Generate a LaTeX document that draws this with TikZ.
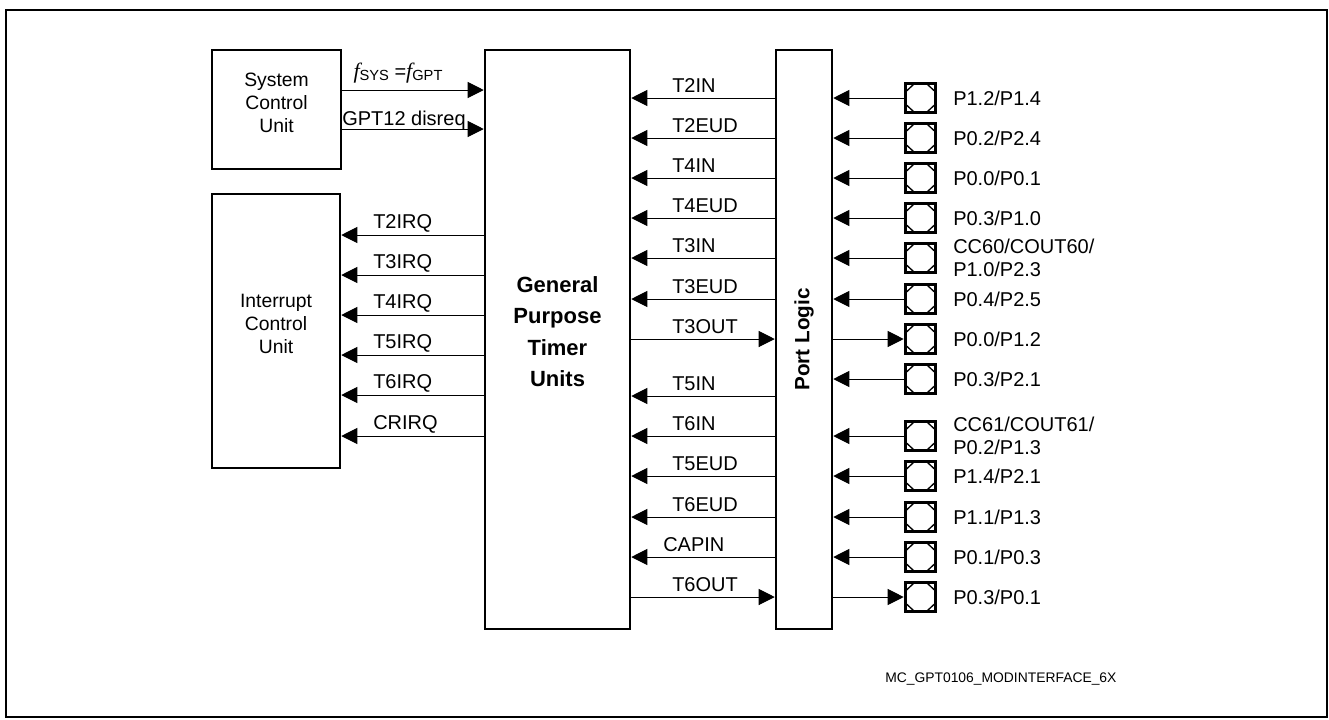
\documentclass[tikz,border=0pt]{standalone}
\usepackage{fontspec}
\setmainfont{Liberation Sans}
\newfontfamily\timesfont{Liberation Serif}
\usetikzlibrary{arrows.meta, calc, fit}
\tikzset{
    unit/.style={draw, line width=1.9pt, inner sep=0pt, align=center, font=\fontsize{14.5}{17.3}\selectfont},
    pad/.style={draw, line width=2.2pt, minimum width=23pt, minimum height=21.5pt, inner sep=0pt,
        path picture={
            \coordinate (nw) at (path picture bounding box.north west);
            \coordinate (ne) at (path picture bounding box.north east);
            \coordinate (sw) at (path picture bounding box.south west);
            \coordinate (se) at (path picture bounding box.south east);
            \draw[line width=1pt] ($(nw)!.3!(ne)$) -- ($(nw)!.3!(sw)$)
                ($(ne)!.3!(nw)$) -- ($(ne)!.3!(se)$)
                ($(sw)!.3!(se)$) -- ($(sw)!.3!(nw)$)
                ($(se)!.3!(sw)$) -- ($(se)!.3!(ne)$);
        }},
    sig/.style={-{Triangle[length=12pt, width=12pt]}, line width=0.75pt},
    siglabel/.style={anchor=base west, inner sep=0pt},
    padlabel/.style={anchor=west, inner sep=0pt, align=left, font=\fontsize{15}{17.5}\selectfont},
}
\begin{document}
\begin{tikzpicture}[x=0.75pt, y=-0.75pt, font=\fontsize{15}{18}\selectfont]
    \useasboundingbox (0,0) rectangle (1329,719);
    \draw[line width=1.5pt] (6,10) rectangle (1327,717);

    % blocks
    \node[unit, fit={(212,50) (341,169)}] (scu) {System\\Control\\Unit};
    \node[unit, fit={(212,194) (340,468)}] (icu) {Interrupt\\Control\\Unit};
    \node[unit, fit={(485,50) (630,629)}, font=\bfseries\fontsize{16.5}{23.5}\selectfont] (gpt) {General\\Purpose\\Timer\\Units};
    \node[unit, fit={(776,50) (832,629)}] (port) {};
    \node[rotate=90, font=\bfseries\fontsize{15.5}{18}\selectfont] (portlabel) at (port.center) {Port Logic};

    % system control unit -> timers
    \draw[sig] (scu.east |- 0,90) -- (gpt.west |- 0,90);
    \node[anchor=base, inner sep=0pt] (fsys) at (398,78) {{\timesfont\itshape\fontsize{16.5}{18}\selectfont f}\raisebox{-1.5pt}{\fontsize{11}{12}\selectfont SYS} ={\timesfont\itshape\fontsize{16.5}{18}\selectfont f}\raisebox{-1.5pt}{\fontsize{11}{12}\selectfont GPT}};
    \draw[sig] (scu.east |- 0,129) -- (gpt.west |- 0,129);
    \node[siglabel] (disreq) at (342,125) {GPT12 disreq};

    % interrupt requests
    \draw[sig] (gpt.west |- 0,235) -- (icu.east |- 0,235);
    \node[siglabel] (t2irq) at (373,228) {T2IRQ};
    \draw[sig] (gpt.west |- 0,275) -- (icu.east |- 0,275);
    \node[siglabel] (t3irq) at (373,268) {T3IRQ};
    \draw[sig] (gpt.west |- 0,315) -- (icu.east |- 0,315);
    \node[siglabel] (t4irq) at (373,308) {T4IRQ};
    \draw[sig] (gpt.west |- 0,355) -- (icu.east |- 0,355);
    \node[siglabel] (t5irq) at (373,348) {T5IRQ};
    \draw[sig] (gpt.west |- 0,395) -- (icu.east |- 0,395);
    \node[siglabel] (t6irq) at (373,388) {T6IRQ};
    \draw[sig] (gpt.west |- 0,436) -- (icu.east |- 0,436);
    \node[siglabel] (crirq) at (373,429) {CRIRQ};

    % pads
    \node[pad] (p1) at (920.5,98) {};
    \node[padlabel] (l1) at (953,98) {P1.2/P1.4};
    \node[pad] (p2) at (920.5,138) {};
    \node[padlabel] (l2) at (953,138) {P0.2/P2.4};
    \node[pad] (p3) at (920.5,178) {};
    \node[padlabel] (l3) at (953,178) {P0.0/P0.1};
    \node[pad] (p4) at (920.5,218) {};
    \node[padlabel] (l4) at (953,218) {P0.3/P1.0};
    \node[pad] (p5) at (920.5,258) {};
    \node[padlabel] (l5) at (953,258) {CC60/COUT60/\\P1.0/P2.3};
    \node[pad] (p6) at (920.5,299) {};
    \node[padlabel] (l6) at (953,299) {P0.4/P2.5};
    \node[pad] (p7) at (920.5,339) {};
    \node[padlabel] (l7) at (953,339) {P0.0/P1.2};
    \node[pad] (p8) at (920.5,379) {};
    \node[padlabel] (l8) at (953,379) {P0.3/P2.1};
    \node[pad] (p9) at (920.5,436) {};
    \node[padlabel] (l9) at (953,436) {CC61/COUT61/\\P0.2/P1.3};
    \node[pad] (p10) at (920.5,476) {};
    \node[padlabel] (l10) at (953,476) {P1.4/P2.1};
    \node[pad] (p11) at (920.5,517) {};
    \node[padlabel] (l11) at (953,517) {P1.1/P1.3};
    \node[pad] (p12) at (920.5,557) {};
    \node[padlabel] (l12) at (953,557) {P0.1/P0.3};
    \node[pad] (p13) at (920.5,597) {};
    \node[padlabel] (l13) at (953,597) {P0.3/P0.1};

    % pads <-> port logic
    \draw[sig] (p1.west) -- (p1.west -| port.east);
    \draw[sig] (p2.west) -- (p2.west -| port.east);
    \draw[sig] (p3.west) -- (p3.west -| port.east);
    \draw[sig] (p4.west) -- (p4.west -| port.east);
    \draw[sig] (p5.west) -- (p5.west -| port.east);
    \draw[sig] (p6.west) -- (p6.west -| port.east);
    \draw[sig] (p7.west -| port.east) -- (p7.west);
    \draw[sig] (p8.west) -- (p8.west -| port.east);
    \draw[sig] (p9.west) -- (p9.west -| port.east);
    \draw[sig] (p10.west) -- (p10.west -| port.east);
    \draw[sig] (p11.west) -- (p11.west -| port.east);
    \draw[sig] (p12.west) -- (p12.west -| port.east);
    \draw[sig] (p13.west -| port.east) -- (p13.west);

    % port logic <-> timers
    \draw[sig] (port.west |- p1) -- (gpt.east |- p1);
    \node[siglabel] (t2in) at (672,92) {T2IN};
    \draw[sig] (port.west |- p2) -- (gpt.east |- p2);
    \node[siglabel] (t2eud) at (672,132) {T2EUD};
    \draw[sig] (port.west |- p3) -- (gpt.east |- p3);
    \node[siglabel] (t4in) at (672,172) {T4IN};
    \draw[sig] (port.west |- p4) -- (gpt.east |- p4);
    \node[siglabel] (t4eud) at (672,212) {T4EUD};
    \draw[sig] (port.west |- p5) -- (gpt.east |- p5);
    \node[siglabel] (t3in) at (672,252) {T3IN};
    \draw[sig] (port.west |- p6) -- (gpt.east |- p6);
    \node[siglabel] (t3eud) at (672,293) {T3EUD};
    \draw[sig] (gpt.east |- p7) -- (port.west |- p7);
    \node[siglabel] (t3out) at (672,333) {T3OUT};
    \draw[sig] (port.west |- 0,396) -- (gpt.east |- 0,396);
    \node[siglabel] (t5in) at (672,390) {T5IN};
    \draw[sig] (port.west |- p9) -- (gpt.east |- p9);
    \node[siglabel] (t6in) at (672,430) {T6IN};
    \draw[sig] (port.west |- p10) -- (gpt.east |- p10);
    \node[siglabel] (t5eud) at (672,470) {T5EUD};
    \draw[sig] (port.west |- p11) -- (gpt.east |- p11);
    \node[siglabel] (t6eud) at (672,511) {T6EUD};
    \draw[sig] (port.west |- p12) -- (gpt.east |- p12);
    \node[siglabel] (capin) at (663,551) {CAPIN};
    \draw[sig] (gpt.east |- p13) -- (port.west |- p13);
    \node[siglabel] (t6out) at (672,591) {T6OUT};

    \node[anchor=west, inner sep=0pt, font=\fontsize{10.4}{12}\selectfont] (docid) at (885,679) {MC\_GPT0106\_MODINTERFACE\_6X};
\end{tikzpicture}
\end{document}
